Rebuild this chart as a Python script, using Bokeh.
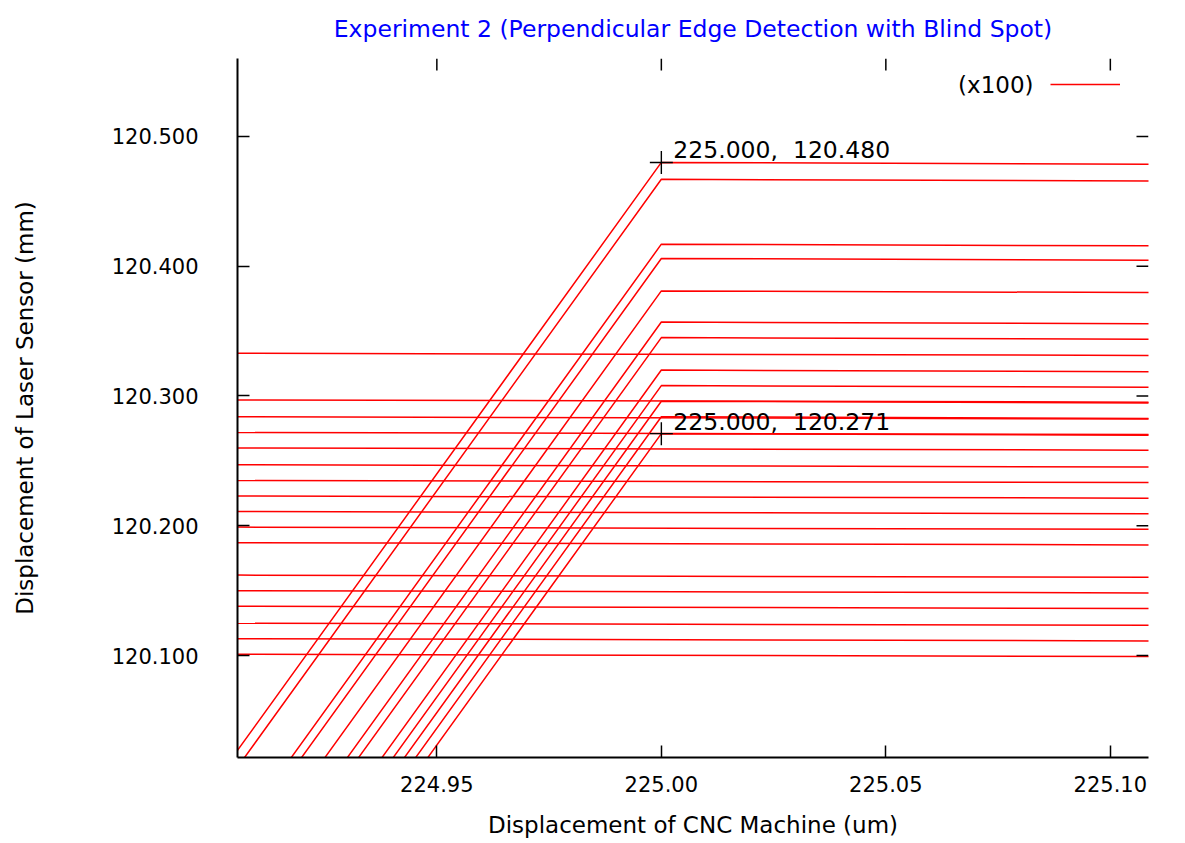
import math

from bokeh.plotting import figure
from bokeh.models import (Range1d, LinearAxis, FixedTicker, NumeralTickFormatter,
                          Label, Legend, LegendItem)
from bokeh.embed import file_html
from bokeh.resources import INLINE

# ---- data -------------------------------------------------------------
# Rising edges: sensor reading before the edge, at the edge (225.00 um) and after
ramp_x = [224.90, 225.00, 225.20]
ramp_start = [120.000, 119.987, 119.937, 119.926, 119.901, 119.877,
              119.865, 119.840, 119.828, 119.816, 119.804, 119.791]
ramp_peak = [120.480, 120.467, 120.417, 120.406, 120.381, 120.357,
             120.345, 120.320, 120.308, 120.296, 120.284, 120.271]
ramp_end = [120.4776, 120.4646, 120.4146, 120.4036, 120.3786, 120.3546,
            120.3426, 120.3176, 120.3056, 120.2936, 120.2816, 120.2686]

# Passes that stay on the surface over the whole window
flat_x = [224.90, 225.20]
flat_start = [120.333, 120.297, 120.284, 120.272, 120.260, 120.247,
              120.235, 120.223, 120.211, 120.199, 120.187, 120.162,
              120.150, 120.138, 120.125, 120.113, 120.101]
flat_end = [120.3305, 120.2945, 120.2815, 120.2695, 120.2575, 120.2445,
            120.2325, 120.2205, 120.2085, 120.1965, 120.1845, 120.1595,
            120.1475, 120.1355, 120.1225, 120.1105, 120.0985]

# Points picked with the mouse
picked_x = [225.000, 225.000]
picked_y = [120.480, 120.271]

x_ticks = [224.95, 225.00, 225.05, 225.10]
y_ticks = [120.1, 120.2, 120.3, 120.4, 120.5]

X_MIN, X_MAX = 224.9056, 225.1085
Y_MIN, Y_MAX = 120.0214, 120.5601

FONT = "DejaVu Sans"

xs = [ramp_x] * len(ramp_peak) + [flat_x] * len(flat_start)
ys = ([[a, b, c] for a, b, c in zip(ramp_start, ramp_peak, ramp_end)]
      + [[a, b] for a, b in zip(flat_start, flat_end)])

p = figure(width=1185, height=843, output_backend="svg", toolbar_location=None,
           x_range=Range1d(X_MIN, X_MAX), y_range=Range1d(Y_MIN, Y_MAX),
           min_border_left=237, min_border_right=37, min_border_top=58,
           min_border_bottom=86, x_axis_location=None, y_axis_location=None)
p.outline_line_color = None
p.grid.visible = False
p.background_fill_color = "white"
p.border_fill_color = "white"

p.title.text = "Experiment 2 (Perpendicular Edge Detection with Blind Spot)"
p.title.align = "center"
p.title.vertical_align = "top"
p.title.standoff = 27
p.title.text_color = "#0000ff"
p.title.text_font = FONT
p.title.text_font_size = "23.5px"
p.title.text_font_style = "normal"

r = p.multi_line(xs, ys, line_color="#ff0000", line_width=1.5)

p.scatter(picked_x, picked_y, marker="cross", size=23, line_color="black", line_width=1.4)
for x, y in zip(picked_x, picked_y):
    p.add_layout(Label(x=x, y=y, text=f"{x:.3f},\u00a0 {y:.3f}", x_offset=12, y_offset=12,
                       text_baseline="middle", text_font=FONT, text_font_size="23.5px",
                       text_color="black"))


def style_axis(ax):
    ax.axis_line_color = "black"
    ax.axis_line_width = 2
    ax.major_tick_in = 12
    ax.major_tick_out = 0
    ax.major_tick_line_width = 1.5
    ax.major_tick_line_color = "black"
    ax.minor_tick_line_color = None
    ax.major_label_text_font = FONT
    ax.major_label_text_font_size = "21px"
    ax.major_label_text_color = "black"
    ax.axis_label_text_font = FONT
    ax.axis_label_text_font_size = "23px"
    ax.axis_label_text_font_style = "normal"
    ax.axis_label_text_color = "black"


xb = LinearAxis(ticker=FixedTicker(ticks=x_ticks), formatter=NumeralTickFormatter(format="0.00"),
                axis_label="Displacement of CNC Machine (um)")
style_axis(xb)
xb.major_label_standoff = 18
xb.axis_label_standoff = 17
p.add_layout(xb, "below")

yl = LinearAxis(ticker=FixedTicker(ticks=y_ticks), formatter=NumeralTickFormatter(format="0.000"),
                axis_label="Displacement of Laser Sensor (mm)")
style_axis(yl)
yl.major_label_standoff = 39
yl.axis_label_standoff = 71
p.add_layout(yl, "left")

# mirrored tick marks on the open top and right sides
p.ray(x=x_ticks, y=[Y_MAX] * len(x_ticks), length=12, length_units="screen",
      angle=-math.pi / 2, line_color="black", line_width=1.5)
p.ray(x=[X_MAX] * len(y_ticks), y=y_ticks, length=12, length_units="screen",
      angle=math.pi, line_color="black", line_width=1.5)

# key: sample line to the right of its text
p.add_layout(Label(x=225.0829, y=120.540, text="(x100)", text_align="right",
                   text_baseline="middle", text_font=FONT, text_font_size="23px",
                   text_color="black"))
legend = Legend(items=[LegendItem(label=" ", renderers=[r])], location=(813, 663),
                glyph_width=70, glyph_height=20, label_height=20, label_width=0,
                label_standoff=0, padding=0, margin=0, spacing=0,
                border_line_color=None, background_fill_alpha=0,
                label_text_font_size="1px")
p.add_layout(legend, "center")

open("out.html", "w").write(file_html(p, INLINE))
